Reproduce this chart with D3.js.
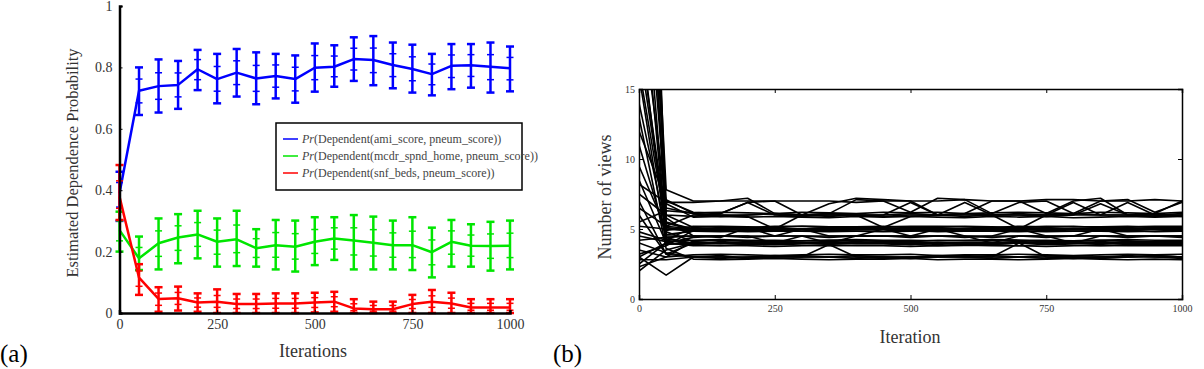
<!DOCTYPE html>
<html>
<head>
<meta charset="utf-8">
<script src="https://cdnjs.cloudflare.com/ajax/libs/d3/7.8.5/d3.min.js"></script>
<style>
  body { margin: 0; background: #fff; }
  svg text { font-family: "Liberation Serif", "Times New Roman", Times, serif !important; }
</style>
</head>
<body>
<div id="chart"></div>
<script>
// ---- panel (a): estimated dependence probability ----
const iters = [0, 50, 100, 150, 200, 250, 300, 350, 400, 450, 500, 550, 600, 650, 700, 750, 800, 850, 900, 950, 1000];

const blueMean = [0.39, 0.724, 0.739, 0.743, 0.794, 0.762, 0.783, 0.764, 0.772, 0.762, 0.799, 0.802, 0.827, 0.824, 0.808, 0.795, 0.778, 0.805, 0.807, 0.802, 0.797];
const blueHi   = [0.46, 0.800, 0.826, 0.821, 0.857, 0.844, 0.860, 0.849, 0.844, 0.839, 0.878, 0.872, 0.898, 0.902, 0.881, 0.874, 0.844, 0.876, 0.876, 0.881, 0.868];
const blueLo   = [0.30, 0.645, 0.653, 0.665, 0.726, 0.683, 0.705, 0.680, 0.699, 0.685, 0.721, 0.737, 0.756, 0.742, 0.732, 0.718, 0.709, 0.729, 0.734, 0.718, 0.722];

const greenMean = [0.27, 0.178, 0.227, 0.246, 0.256, 0.232, 0.240, 0.211, 0.221, 0.216, 0.232, 0.243, 0.236, 0.229, 0.221, 0.221, 0.198, 0.232, 0.219, 0.218, 0.219];
const greenHi   = [0.33, 0.249, 0.308, 0.322, 0.333, 0.308, 0.333, 0.273, 0.303, 0.301, 0.312, 0.312, 0.319, 0.314, 0.301, 0.312, 0.278, 0.303, 0.289, 0.297, 0.301];
const greenLo   = [0.20, 0.140, 0.142, 0.162, 0.178, 0.151, 0.153, 0.151, 0.142, 0.135, 0.156, 0.173, 0.142, 0.142, 0.142, 0.140, 0.116, 0.151, 0.151, 0.138, 0.142];

const redMean = [0.379, 0.115, 0.046, 0.048, 0.034, 0.037, 0.029, 0.029, 0.031, 0.031, 0.034, 0.037, 0.015, 0.012, 0.012, 0.029, 0.037, 0.031, 0.018, 0.018, 0.018];
const redHi   = [0.482, 0.159, 0.084, 0.086, 0.064, 0.077, 0.062, 0.062, 0.064, 0.064, 0.066, 0.069, 0.045, 0.037, 0.037, 0.059, 0.075, 0.066, 0.045, 0.045, 0.045];
const redLo   = [0.303, 0.059, 0.004, 0.008, 0.004, 0.000, 0.000, 0.000, 0.000, 0.000, 0.002, 0.004, 0.000, 0.000, 0.000, 0.000, 0.000, 0.000, 0.000, 0.000, 0.000];

const legendLabels = [
  "(Dependent(ami_score, pneum_score))",
  "(Dependent(mcdr_spnd_home, pneum_score))",
  "(Dependent(snf_beds, pneum_score))"
];
const probTicks = [0, 0.2, 0.4, 0.6, 0.8, 1];
const iterTicks = [0, 250, 500, 750, 1000];

// ---- panel (b): number of views per chain ----
const viewIters = iters;
const viewTicks = [0, 5, 10, 15];
const chains = [
  [45, 7.8, 7.0, 7.0, 7.0, 7.0, 7.0, 7.0, 6.9, 7.0, 7.0, 7.0, 7.1, 7.0, 7.0, 7.1, 7.1, 7.0, 7.0, 7.1, 7.0],
  [8.2, 6.9, 6.9, 7.0, 7.2, 6.1, 6.0, 6.1, 7.1, 7.0, 6.2, 7.2, 7.1, 6.1, 6.9, 7.0, 6.1, 7.0, 7.1, 6.2, 6.9],
  [12, 7.0, 6.2, 6.1, 6.9, 7.0, 6.0, 6.8, 7.2, 7.1, 7.0, 6.0, 6.1, 7.0, 7.0, 6.1, 7.0, 7.2, 6.0, 6.1, 7.0],
  [30, 6.5, 6.1, 6.0, 6.0, 6.1, 6.0, 5.9, 6.0, 6.0, 6.1, 6.0, 6.0, 6.0, 6.1, 6.0, 6.0, 6.0, 6.0, 6.0, 6.1],
  [18, 5.2, 6.0, 6.0, 5.9, 5.0, 6.0, 6.1, 6.0, 5.9, 6.0, 6.0, 6.9, 6.0, 6.0, 5.9, 6.0, 6.8, 6.0, 6.0, 5.9],
  [7.5, 6.0, 5.9, 6.1, 6.9, 6.0, 5.9, 6.0, 6.0, 5.1, 5.9, 6.0, 6.1, 6.0, 5.0, 6.0, 6.1, 6.0, 6.9, 6.0, 6.0],
  [38, 7.1, 6.1, 5.9, 6.0, 6.1, 6.0, 6.0, 6.0, 6.0, 6.9, 6.0, 5.9, 6.0, 6.0, 6.0, 6.9, 6.0, 6.0, 5.9, 6.0],
  [5.5, 6.3, 6.15, 6.2, 6.15, 6.1, 6.2, 6.15, 6.1, 6.2, 6.15, 6.2, 6.1, 6.15, 6.2, 6.15, 6.1, 6.2, 6.15, 6.1, 6.2],
  [22, 6.8, 5.85, 5.9, 5.85, 5.9, 5.85, 5.8, 5.9, 5.85, 5.9, 5.85, 5.8, 5.9, 5.85, 5.9, 5.8, 5.85, 5.9, 5.85, 5.9],
  [60, 5.4, 5.0, 5.1, 5.0, 5.0, 5.0, 5.0, 5.1, 5.0, 5.0, 5.0, 5.0, 4.9, 5.0, 5.0, 5.0, 5.0, 5.1, 5.0, 5.0],
  [4.8, 4.2, 5.15, 5.2, 5.15, 5.1, 5.2, 5.15, 5.15, 5.2, 5.1, 5.15, 5.2, 5.15, 5.1, 5.2, 5.15, 5.15, 5.2, 5.1, 5.15],
  [35, 6.0, 5.1, 5.0, 5.0, 4.9, 5.0, 5.0, 5.0, 5.1, 5.0, 5.0, 5.0, 5.0, 5.1, 5.0, 5.0, 4.9, 5.0, 5.0, 5.1],
  [9.5, 5.0, 4.85, 4.8, 4.85, 4.9, 4.85, 4.8, 4.85, 4.85, 4.9, 4.8, 4.85, 4.9, 4.85, 4.8, 4.85, 4.85, 4.9, 4.8, 4.85],
  [3.2, 3.8, 4.9, 5.0, 5.0, 5.0, 5.0, 5.1, 5.0, 5.0, 4.9, 5.0, 5.0, 5.1, 5.0, 5.0, 5.0, 5.0, 4.9, 5.0, 5.0],
  [19, 5.5, 5.0, 5.0, 5.1, 5.0, 5.0, 4.9, 5.0, 5.0, 5.0, 5.1, 5.0, 5.0, 4.9, 5.0, 5.0, 5.0, 5.0, 5.1, 5.0],
  [14, 4.9, 5.2, 5.15, 5.1, 5.2, 5.2, 5.15, 5.1, 5.15, 5.2, 5.2, 5.15, 5.1, 5.2, 5.15, 5.2, 5.1, 5.15, 5.2, 5.2],
  [6.5, 5.2, 5.0, 5.0, 4.9, 5.0, 5.0, 5.0, 5.0, 5.0, 5.0, 4.9, 5.0, 5.0, 5.0, 5.1, 5.0, 5.0, 5.0, 5.0, 5.1],
  [28, 4.6, 4.85, 4.9, 4.8, 4.85, 4.85, 4.9, 4.85, 4.8, 4.85, 4.9, 4.85, 4.85, 4.8, 4.9, 4.85, 4.85, 4.8, 4.85, 4.9],
  [5.2, 5.0, 5.0, 5.0, 5.0, 4.9, 5.0, 5.0, 5.0, 5.0, 5.1, 5.0, 4.9, 5.0, 5.0, 5.0, 5.0, 5.0, 5.0, 5.0, 5.0],
  [16.5, 5.1, 4.9, 5.0, 5.0, 5.0, 5.0, 5.1, 5.0, 5.0, 5.0, 4.9, 5.0, 5.0, 5.1, 5.0, 5.0, 5.0, 4.9, 5.0, 5.0],
  [11, 4.5, 4.5, 4.4, 5.1, 4.5, 4.5, 4.0, 4.5, 4.5, 4.5, 5.0, 4.5, 4.4, 4.5, 4.5, 4.0, 4.5, 4.5, 4.5, 4.5],
  [4.2, 4.4, 4.5, 4.5, 4.5, 4.0, 4.5, 4.5, 4.5, 5.0, 4.5, 4.5, 4.4, 4.5, 5.0, 4.5, 4.5, 4.5, 4.4, 4.5, 4.4],
  [50, 5.8, 4.5, 4.5, 4.4, 4.5, 5.0, 4.5, 4.5, 4.5, 4.4, 4.5, 4.5, 4.0, 4.5, 4.5, 4.5, 5.0, 4.5, 4.5, 4.5],
  [2.5, 4.0, 4.4, 4.5, 4.5, 4.5, 4.5, 4.4, 4.5, 4.5, 4.5, 4.5, 4.5, 4.5, 4.5, 4.4, 4.5, 4.5, 4.5, 4.5, 4.5],
  [40, 4.3, 4.0, 4.0, 3.9, 4.0, 4.0, 4.0, 4.1, 4.0, 4.0, 4.0, 3.9, 4.0, 4.0, 4.0, 4.0, 4.1, 4.0, 4.0, 4.0],
  [3.5, 3.0, 4.15, 4.2, 4.15, 4.1, 4.15, 4.2, 4.15, 4.15, 4.1, 4.2, 4.15, 4.15, 4.2, 4.1, 4.15, 4.2, 4.15, 4.1, 4.15],
  [8.5, 4.0, 3.85, 3.8, 3.85, 3.9, 3.85, 3.8, 3.85, 3.85, 3.9, 3.8, 3.85, 3.85, 3.8, 3.9, 3.85, 3.8, 3.85, 3.9, 3.85],
  [2.0, 3.5, 4.0, 4.0, 4.0, 4.0, 4.0, 4.1, 4.0, 4.0, 3.9, 4.0, 4.0, 4.0, 4.0, 4.1, 4.0, 4.0, 3.9, 4.0, 4.1],
  [55, 4.8, 4.1, 4.0, 4.0, 3.9, 4.0, 4.0, 4.0, 4.0, 4.1, 4.0, 4.0, 3.9, 4.0, 4.0, 4.0, 4.0, 4.1, 4.0, 3.9],
  [4.5, 4.1, 4.2, 4.25, 4.2, 4.2, 4.15, 4.2, 4.25, 4.2, 4.2, 4.15, 4.2, 4.25, 4.2, 4.2, 4.15, 4.2, 4.25, 4.2, 4.2],
  [16, 3.9, 4.0, 4.0, 4.1, 4.0, 4.0, 3.9, 4.0, 4.1, 4.0, 3.9, 4.0, 4.0, 4.1, 4.0, 4.0, 4.0, 4.0, 3.9, 4.1],
  [3.0, 4.0, 3.8, 3.85, 3.8, 3.75, 3.8, 3.85, 3.8, 3.8, 3.75, 3.8, 3.85, 3.8, 3.8, 3.75, 3.8, 3.85, 3.8, 3.8, 3.8],
  [25, 4.4, 3.9, 4.0, 4.0, 4.1, 4.0, 4.0, 4.0, 4.0, 3.9, 4.0, 4.0, 4.0, 4.0, 4.0, 4.0, 3.9, 4.1, 4.0, 4.0],
  [6.0, 3.2, 4.0, 4.0, 3.9, 4.0, 4.0, 4.1, 4.0, 4.0, 4.0, 4.0, 3.9, 4.0, 4.1, 4.0, 4.0, 4.0, 4.0, 4.0, 3.9],
  [20, 4.2, 3.9, 4.1, 4.0, 4.0, 4.0, 4.0, 4.0, 4.1, 4.0, 4.0, 4.0, 3.9, 4.0, 4.0, 4.1, 4.0, 4.0, 3.9, 4.0],
  [3.0, 1.7, 3.0, 3.1, 2.9, 3.0, 3.0, 3.0, 3.1, 3.0, 2.9, 3.0, 3.0, 3.0, 3.0, 3.1, 3.0, 2.9, 3.0, 3.0, 2.9],
  [7.0, 3.2, 3.0, 2.9, 3.0, 3.0, 3.1, 3.0, 3.0, 2.9, 3.0, 3.0, 3.1, 3.0, 4.0, 3.0, 2.9, 3.0, 3.0, 3.1, 3.0],
  [2.3, 3.0, 3.15, 3.2, 3.15, 3.1, 3.15, 3.2, 3.15, 3.15, 3.2, 3.1, 3.15, 3.15, 3.2, 3.15, 3.1, 3.15, 3.2, 3.15, 3.2],
  [13, 3.6, 2.85, 2.8, 2.85, 2.9, 2.85, 2.8, 2.85, 2.85, 2.9, 2.8, 2.85, 2.85, 2.8, 2.85, 2.9, 2.85, 2.8, 2.85, 2.8],
  [2.8, 2.8, 3.0, 3.0, 3.0, 3.1, 3.0, 3.9, 3.0, 3.0, 3.0, 3.1, 3.0, 2.9, 3.0, 3.0, 3.0, 3.0, 3.1, 3.0, 3.0],
  [4.0, 3.3, 3.0, 3.0, 2.9, 3.0, 3.0, 3.0, 2.9, 3.0, 3.0, 3.0, 3.0, 3.1, 3.0, 2.9, 3.0, 3.0, 3.0, 3.1, 3.0]
];

const W = 1204, H = 369;
const svg = d3.select("#chart").append("svg")
  .attr("width", W).attr("height", H)
  .attr("font-family", "Liberation Serif, Times New Roman, serif");

// ================= panel (a) =================
const xA = d3.scaleLinear().domain([0, 1000]).range([119.5, 510]);
const yA = d3.scaleLinear().domain([0, 1]).range([313, 6]);

const gA = svg.append("g");

const seriesA = [
  { color: "#0000ff", mean: blueMean, hi: blueHi, lo: blueLo },
  { color: "#00e600", mean: greenMean, hi: greenHi, lo: greenLo },
  { color: "#ff0000", mean: redMean, hi: redHi, lo: redLo }
];

const lineA = d3.line().x(d => xA(d.x)).y(d => yA(d.y));

seriesA.forEach(s => {
  const pts = iters.map((x, i) => ({ x: x, y: s.mean[i], hi: s.hi[i], lo: s.lo[i] }));
  const g = gA.append("g").attr("stroke", s.color).attr("fill", "none");

  // error bars
  const bars = g.selectAll(".eb").data(pts).enter().append("g");
  bars.append("line")
    .attr("x1", d => xA(d.x)).attr("x2", d => xA(d.x))
    .attr("y1", d => yA(d.hi)).attr("y2", d => yA(d.lo))
    .attr("stroke-width", 2.5);
  // outer caps
  [d => d.hi, d => d.lo].forEach(f => {
    bars.append("line")
      .attr("x1", d => xA(d.x) - 4).attr("x2", d => xA(d.x) + 4)
      .attr("y1", d => yA(f(d))).attr("y2", d => yA(f(d)))
      .attr("stroke-width", 2.5);
  });
  // inner caps (overlaid narrower bars)
  [d => (d.hi + d.y) / 2, d => (d.lo + d.y) / 2].forEach(f => {
    bars.append("line")
      .attr("x1", d => xA(d.x) - 3.5).attr("x2", d => xA(d.x) + 3.5)
      .attr("y1", d => yA(f(d))).attr("y2", d => yA(f(d)))
      .attr("stroke-width", 1.5);
  });

  g.append("path").datum(pts)
    .attr("d", lineA)
    .attr("stroke-width", 2.5)
    .attr("stroke-linejoin", "round");
});

// axes of (a)
const axA_y = gA.append("g")
  .attr("transform", `translate(${xA(0)},0)`)
  .call(d3.axisLeft(yA).tickValues(probTicks).tickSize(-3).tickPadding(7)
    .tickFormat(d => d === 0 || d === 1 ? d3.format("d")(d) : d3.format(".1f")(d)));
const axA_x = gA.append("g")
  .attr("transform", `translate(0,${yA(0)})`)
  .call(d3.axisBottom(xA).tickValues(iterTicks).tickSize(-3).tickPadding(6).tickFormat(d3.format("d")));
[axA_y, axA_x].forEach(ax => {
  ax.attr("font-family", null);
  ax.select(".domain").attr("stroke", "#000").attr("stroke-width", 2.5);
  ax.selectAll(".tick line").attr("stroke", "#000").attr("stroke-width", 1);
  ax.selectAll("text").style("font-size", "14px").attr("fill", "#333");
});

gA.append("text")
  .attr("x", 313).attr("y", 357)
  .attr("text-anchor", "middle").style("font-size", "18px").attr("fill", "#333")
  .text("Iterations");
gA.append("text")
  .attr("transform", "translate(78,163) rotate(-90)")
  .attr("text-anchor", "middle").style("font-size", "16.5px").attr("fill", "#333")
  .text("Estimated Dependence Probability");

// legend
const leg = gA.append("g");
leg.append("rect")
  .attr("x", 276).attr("y", 123).attr("width", 246).attr("height", 67)
  .attr("fill", "#fff").attr("stroke", "#000").attr("stroke-width", 1.5);
seriesA.forEach((s, i) => {
  const yy = 139 + i * 17;
  leg.append("line")
    .attr("x1", 283).attr("x2", 298).attr("y1", yy).attr("y2", yy)
    .attr("stroke", s.color).attr("stroke-width", 1.5);
  const t = leg.append("text")
    .attr("x", 302).attr("y", yy + 4)
    .style("font-size", "12px").attr("fill", "#444");
  t.append("tspan").style("font-style", "italic").text("Pr");
  t.append("tspan").text(legendLabels[i]);
});

svg.append("text").attr("x", 0).attr("y", 362)
  .style("font-size", "25px").text("(a)");

// ================= panel (b) =================
const xB = d3.scaleLinear().domain([0, 1000]).range([639, 1182]);
const yB = d3.scaleLinear().domain([0, 15]).range([299, 89]);

const gB = svg.append("g");
gB.append("clipPath").attr("id", "clipB")
  .append("rect")
  .attr("x", xB(0)).attr("y", yB(15))
  .attr("width", xB(1000) - xB(0)).attr("height", yB(0) - yB(15));

const lineB = d3.line().x((d, i) => xB(viewIters[i])).y(d => yB(d));
gB.append("g").attr("clip-path", "url(#clipB)")
  .selectAll("path").data(chains).enter().append("path")
  .attr("d", lineB)
  .attr("fill", "none").attr("stroke", "#000").attr("stroke-width", 1.6)
  .attr("stroke-linejoin", "round");

const axB = [
  gB.append("g").attr("transform", `translate(0,${yB(0)})`)
    .call(d3.axisBottom(xB).tickValues(iterTicks).tickSize(-4).tickPadding(6).tickFormat(d3.format("d"))),
  gB.append("g").attr("transform", `translate(0,${yB(15)})`)
    .call(d3.axisTop(xB).tickValues(iterTicks).tickSize(-4).tickFormat("")),
  gB.append("g").attr("transform", `translate(${xB(0)},0)`)
    .call(d3.axisLeft(yB).tickValues(viewTicks).tickSize(-4).tickPadding(4).tickFormat(d3.format("d"))),
  gB.append("g").attr("transform", `translate(${xB(1000)},0)`)
    .call(d3.axisRight(yB).tickValues(viewTicks).tickSize(-4).tickFormat(""))
];
axB.forEach(ax => {
  ax.attr("font-family", null);
  ax.select(".domain").attr("stroke", "#000").attr("stroke-width", 1.5);
  ax.selectAll(".tick line").attr("stroke", "#000");
  ax.selectAll("text").style("font-size", "10px").attr("fill", "#333");
});

gB.append("text")
  .attr("x", 910).attr("y", 343)
  .attr("text-anchor", "middle").style("font-size", "18px").attr("fill", "#333")
  .text("Iteration");
gB.append("text")
  .attr("transform", "translate(611,197) rotate(-90)")
  .attr("text-anchor", "middle").style("font-size", "18px").attr("fill", "#333")
  .text("Number of views");

svg.append("text").attr("x", 553).attr("y", 362)
  .style("font-size", "25px").text("(b)");
</script>
</body>
</html>
